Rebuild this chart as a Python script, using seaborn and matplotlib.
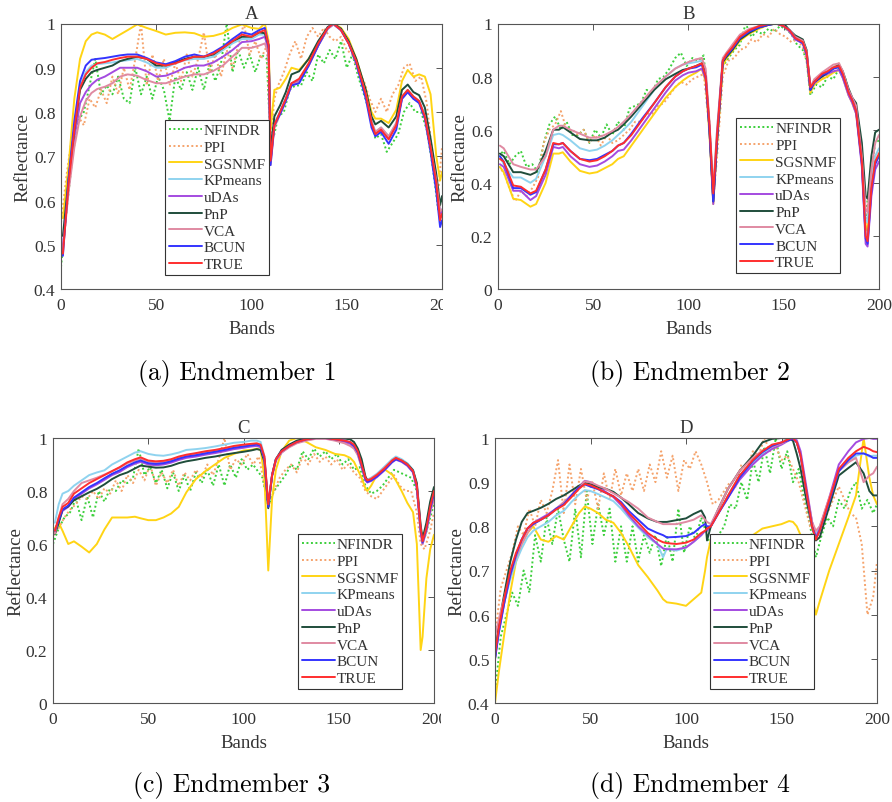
import matplotlib
matplotlib.use("Agg")
import matplotlib.pyplot as plt
import seaborn as sns
from matplotlib.transforms import Bbox, TransformedBbox
from matplotlib.ticker import FuncFormatter

sns.set_theme(style="white")
plt.rcParams['font.family'] = ['Liberation Serif', 'DejaVu Serif']

# ---------------- data ----------------
methods = ["NFINDR", "PPI", "SGSNMF", "KPmeans", "uDAs", "PnP", "VCA", "BCUN", "TRUE"]
colors = {"NFINDR": "#3ccf3c", "PPI": "#f5a36c", "SGSNMF": "#ffd414", "KPmeans": "#8fd3ef",
          "uDAs": "#a44be0", "PnP": "#1f4d3b", "VCA": "#e08aa2", "BCUN": "#3434ff", "TRUE": "#ff2e2e"}
x_ticks = [0, 50, 100, 150, 200]

# ---- Panel A ----
bands_a = [1,4,7,10,13,16,19,23,27,31,35,40,45,50,55,60,65,70,75,80,85,90,95,100,104,107,109,110,112,115,
           118,121,125,130,135,140,143,147,151,155,160,163,165,168,172,176,179,182,185,188,191,194,197,199,200]
bands_a_dot = [0,3,6,9,12,15,18,21,24,27,30,33,36,39,42,45,48,51,54,57,60,63,66,69,72,75,78,81,84,87,90,93,96,99,
               102,105,108,110,112,114,117,120,123,126,129,132,135,138,141,144,147,150,153,156,159,162,165,168,171,
               174,177,180,183,186,189,192,195,198,200]
a_nfindr = [0.45,0.58,0.7,0.78,0.8,0.86,0.92,0.84,0.86,0.84, 0.88,0.83,0.82,0.9,0.84,0.88,0.83,0.88,0.85,0.78,
            0.88,0.85,0.89,0.85,0.9,0.85,0.91,0.87,0.91,1.0, 0.89,0.94,0.9,0.93,0.89,0.93,0.92,
            0.73,0.75,0.79,0.8,0.85,0.86,0.86,0.89,0.87,0.93, 0.91,0.94,0.92,0.96,0.9,0.93,0.88,0.84,0.8,0.74,
            0.75,0.71,0.73,0.75,0.8,0.82,0.8,0.8,0.76,0.68, 0.58,0.6]
a_ppi = [0.55,0.66,0.75,0.79,0.77,0.83,0.81,0.85,0.82,0.88, 0.84,0.9,0.85,0.92,1.0,0.86,0.93,0.87,0.92,0.86,
         0.91,0.87,0.93,0.88,0.92,0.98,0.89,0.93,0.88,0.94, 0.9,0.95,1.0,0.93,0.96,0.92,0.95,
         0.73,0.83,0.86,0.89,0.93,0.96,0.92,0.97,0.99,0.97, 0.99,0.97,0.96,0.97,0.94,0.93,0.89,0.87,0.83,0.8,
         0.83,0.8,0.84,0.86,0.9,0.91,0.87,0.88,0.82,0.7, 0.62,0.72]
a_sgsnmf = [0.56,0.68,0.83,0.92,0.96,0.975,0.98,0.975,0.965,0.975, 0.985,0.998,0.99,0.983,0.975,0.979,0.98,0.978,0.97,0.972,
            0.978,0.99,0.998,0.99,0.988,1.0,0.96,0.76,0.85,0.855, 0.875,0.9,0.895,0.92,0.955,0.99,1.0,0.99,0.965,0.92,
            0.85,0.8,0.785,0.785,0.775,0.805,0.87,0.895,0.88,0.885, 0.88,0.84,0.7,0.645,0.665]
a_kpmeans = [0.49,0.65,0.77,0.86,0.89,0.905,0.908,0.91,0.912,0.915, 0.917,0.92,0.912,0.9,0.9,0.91,0.917,0.92,0.92,0.925,
             0.94,0.955,0.965,0.965,0.975,0.975,0.94,0.69,0.775,0.8, 0.83,0.865,0.87,0.905,0.95,0.988,0.998,0.985,0.955,0.915,
             0.84,0.78,0.755,0.765,0.745,0.775,0.835,0.85,0.835,0.825, 0.795,0.725,0.65,0.57,0.58]
a_udas = [0.5,0.63,0.74,0.82,0.845,0.862,0.873,0.88,0.89,0.9, 0.9,0.9,0.892,0.88,0.882,0.89,0.9,0.905,0.905,0.912,
          0.925,0.94,0.958,0.96,0.965,0.97,0.94,0.69,0.77,0.8, 0.83,0.865,0.87,0.905,0.95,0.988,0.998,0.985,0.955,0.912,
          0.84,0.775,0.752,0.76,0.74,0.77,0.83,0.845,0.83,0.822, 0.79,0.72,0.64,0.57,0.575]
a_pnp = [0.52,0.65,0.76,0.85,0.875,0.89,0.895,0.9,0.905,0.915, 0.92,0.925,0.92,0.905,0.905,0.912,0.92,0.925,0.925,0.93,
         0.945,0.96,0.97,0.97,0.98,0.978,0.95,0.71,0.79,0.815, 0.845,0.885,0.892,0.92,0.96,0.992,1.0,0.988,0.96,0.92,
         0.85,0.79,0.772,0.78,0.765,0.79,0.85,0.862,0.845,0.838, 0.81,0.74,0.66,0.59,0.61]
a_vca = [0.49,0.62,0.72,0.79,0.825,0.843,0.852,0.857,0.865,0.88, 0.885,0.882,0.872,0.865,0.865,0.872,0.88,0.885,0.885,0.893,
         0.905,0.925,0.945,0.945,0.95,0.955,0.93,0.68,0.765,0.795, 0.825,0.86,0.868,0.905,0.95,0.988,0.998,0.985,0.955,0.912,
         0.84,0.778,0.755,0.765,0.745,0.775,0.832,0.848,0.832,0.822, 0.79,0.72,0.645,0.575,0.58]
a_bcun = [0.475,0.65,0.78,0.87,0.905,0.918,0.92,0.922,0.925,0.928, 0.93,0.93,0.922,0.912,0.908,0.915,0.925,0.93,0.925,0.935,
          0.948,0.965,0.98,0.975,0.985,0.99,0.95,0.68,0.77,0.795, 0.825,0.86,0.865,0.905,0.95,0.99,1.0,0.985,0.955,0.91,
          0.83,0.765,0.745,0.755,0.728,0.76,0.83,0.845,0.83,0.82, 0.785,0.71,0.62,0.54,0.555]
a_true = [0.48,0.64,0.76,0.855,0.885,0.9,0.91,0.913,0.918,0.922, 0.925,0.925,0.92,0.91,0.905,0.91,0.918,0.925,0.925,0.932,
          0.945,0.96,0.975,0.97,0.98,0.985,0.95,0.69,0.77,0.8, 0.83,0.865,0.875,0.91,0.955,0.99,1.0,0.985,0.955,0.915,
          0.84,0.775,0.75,0.76,0.738,0.77,0.835,0.85,0.835,0.825, 0.79,0.72,0.64,0.555,0.57]

# ---- Panel B ----
bands_b = [1,3,8,12,17,20,25,29,32,34,38,43,48,52,56,60,63,66,70,76,82,88,93,97,100,104,107,109,111,113,
           115,118,120,123,127,132,137,142,146,150,153,156,160,162,164,166,170,173,176,179,181,184,186,188,191,193,194,196,198,200]
bands_b_dot = [0,3,6,9,12,15,18,21,24,27,30,33,36,39,42,45,48,51,54,57,60,63,66,69,72,75,78,81,84,87,90,93,96,99,
               102,105,108,111,113,115,118,121,124,127,130,133,136,139,142,145,148,151,154,157,160,162,164,167,170,
               173,176,179,182,185,188,191,193,195,198,200]
b_nfindr = [0.5,0.52,0.47,0.5,0.52,0.46,0.47,0.44,0.55,0.62, 0.65,0.6,0.63,0.58,0.58,0.6,0.55,0.6,0.57,0.62,
            0.58,0.63,0.6,0.68,0.69,0.7,0.75,0.74,0.79,0.8, 0.83,0.87,0.89,0.84,0.87,0.86,0.88,
            0.62,0.34,0.55,0.84,0.87,0.9,0.92,1.0,0.95,0.97, 0.96,0.98,0.97,0.99,0.98,0.96,0.92,0.9,0.86,0.73,
            0.77,0.76,0.8,0.79,0.83,0.8,0.72,0.68,0.5,0.27, 0.4,0.55,0.56]
b_ppi = [0.46,0.44,0.38,0.33,0.37,0.35,0.38,0.42,0.55,0.6, 0.62,0.67,0.6,0.6,0.58,0.6,0.55,0.58,0.54,0.58,
         0.55,0.56,0.58,0.6,0.63,0.63,0.66,0.66,0.69,0.7, 0.73,0.76,0.78,0.77,0.79,0.8,0.81,
         0.6,0.33,0.5,0.8,0.86,0.87,0.9,0.91,0.94,0.93, 0.96,0.95,0.98,0.96,0.95,0.93,0.94,0.91,0.86,0.74,
         0.79,0.79,0.81,0.84,0.85,0.78,0.73,0.69,0.5,0.22, 0.38,0.5,0.52]
b_sgsnmf = [0.46,0.44,0.34,0.335,0.31,0.32,0.4,0.51,0.51,0.515, 0.48,0.445,0.435,0.44,0.455,0.47,0.49,0.5,0.54,0.6,
            0.66,0.72,0.76,0.785,0.8,0.815,0.83,0.78,0.58,0.32, 0.55,0.84,0.87,0.895,0.935,0.962,0.98,0.995,1.0,0.99,
            0.97,0.95,0.93,0.88,0.74,0.77,0.79,0.8,0.815,0.825, 0.795,0.73,0.7,0.66,0.48,0.24,0.22,0.4,0.48,0.5]
b_kpmeans = [0.5,0.47,0.42,0.42,0.4,0.415,0.5,0.58,0.585,0.58, 0.56,0.53,0.52,0.525,0.54,0.56,0.58,0.6,0.63,0.69,
             0.75,0.8,0.83,0.845,0.85,0.855,0.86,0.82,0.62,0.38, 0.6,0.865,0.89,0.915,0.955,0.978,0.99,0.998,1.0,0.99,
             0.975,0.95,0.935,0.895,0.76,0.785,0.81,0.82,0.835,0.84, 0.81,0.745,0.715,0.68,0.5,0.26,0.25,0.42,0.5,0.53]
b_udas = [0.47,0.46,0.37,0.37,0.335,0.35,0.43,0.535,0.53,0.535, 0.5,0.47,0.46,0.465,0.48,0.5,0.52,0.525,0.56,0.62,
          0.68,0.74,0.785,0.805,0.815,0.82,0.83,0.79,0.6,0.32, 0.56,0.855,0.88,0.905,0.945,0.97,0.985,0.995,1.0,0.99,
          0.97,0.94,0.925,0.88,0.75,0.775,0.8,0.81,0.82,0.825, 0.795,0.73,0.7,0.66,0.46,0.17,0.16,0.35,0.45,0.48]
b_pnp = [0.51,0.5,0.44,0.44,0.43,0.44,0.52,0.6,0.6,0.61, 0.59,0.565,0.56,0.56,0.57,0.59,0.6,0.62,0.65,0.7,
         0.75,0.79,0.81,0.825,0.83,0.84,0.85,0.81,0.6,0.33, 0.56,0.855,0.875,0.9,0.94,0.965,0.985,0.995,1.0,1.0,
         0.975,0.955,0.94,0.9,0.75,0.78,0.8,0.815,0.83,0.845, 0.82,0.755,0.72,0.7,0.55,0.35,0.34,0.5,0.59,0.6]
b_vca = [0.54,0.53,0.47,0.46,0.45,0.45,0.5,0.6,0.615,0.615, 0.6,0.585,0.57,0.57,0.58,0.595,0.61,0.63,0.66,0.71,
         0.76,0.8,0.83,0.845,0.855,0.865,0.87,0.83,0.63,0.37, 0.6,0.87,0.89,0.92,0.958,0.98,0.99,0.998,1.0,0.99,
         0.975,0.95,0.935,0.895,0.76,0.79,0.815,0.83,0.845,0.85, 0.82,0.75,0.72,0.69,0.5,0.3,0.29,0.45,0.55,0.58]
b_bcun = [0.5,0.48,0.38,0.38,0.355,0.365,0.45,0.545,0.545,0.55, 0.52,0.49,0.485,0.49,0.505,0.52,0.54,0.55,0.585,0.645,
          0.7,0.76,0.8,0.82,0.83,0.835,0.845,0.8,0.6,0.33, 0.57,0.86,0.88,0.905,0.945,0.97,0.985,0.995,1.0,0.99,
          0.975,0.945,0.925,0.885,0.75,0.78,0.805,0.815,0.83,0.835, 0.805,0.74,0.71,0.67,0.47,0.19,0.17,0.37,0.47,0.5]
b_true = [0.49,0.48,0.39,0.385,0.36,0.37,0.45,0.55,0.545,0.55, 0.52,0.49,0.48,0.485,0.5,0.52,0.54,0.55,0.58,0.64,
          0.7,0.76,0.8,0.82,0.83,0.84,0.85,0.8,0.62,0.36, 0.58,0.86,0.885,0.91,0.95,0.975,0.99,0.998,1.0,0.99,
          0.975,0.945,0.93,0.89,0.76,0.78,0.81,0.82,0.835,0.84, 0.81,0.74,0.71,0.67,0.48,0.2,0.18,0.38,0.48,0.51]

# ---- Panel C ----
bands_c = [1,3,5,8,11,15,19,23,27,31,35,39,43,46,50,54,58,62,66,70,75,80,85,90,95,100,104,107,109,111,
           113,115,117,120,124,128,133,138,143,148,153,156,158,160,162,164,165,167,170,174,178,180,183,186,189,191,193,194,196,198,200]
bands_c_dot = [0,3,6,9,12,15,18,21,24,27,30,33,36,39,42,45,48,51,54,57,60,63,66,69,72,75,78,81,84,87,90,93,96,99,
               102,105,108,110,113,116,119,122,125,128,131,134,137,140,143,146,149,152,155,158,161,164,167,170,173,
               176,179,182,185,188,191,193,195,198,200]
c_nfindr = [0.6,0.66,0.7,0.72,0.77,0.69,0.78,0.7,0.8,0.76, 0.81,0.8,0.84,0.83,0.85,0.96,0.86,0.89,0.83,0.88,
            0.81,0.87,0.8,0.86,0.8,0.87,0.83,0.88,0.82,0.9, 0.82,0.9,0.85,0.92,0.88,0.9,0.87,
            0.85,0.74,0.8,0.83,0.86,0.9,0.88,0.95,0.92,0.96, 0.93,0.95,0.92,0.94,0.9,0.92,0.88,0.89,0.82,0.79,
            0.8,0.82,0.85,0.88,0.87,0.86,0.85,0.8, 0.65,0.62,0.7,0.75]
c_ppi = [0.63,0.66,0.7,0.73,0.75,0.78,0.77,0.8,0.77,0.81, 0.79,0.84,0.8,0.86,0.83,0.88,0.84,0.9,0.82,0.87,
         0.83,0.88,0.82,0.87,0.84,0.88,0.85,0.9,0.86,0.92, 1.0,0.88,0.92,0.9,0.94,0.9,0.93,
         0.86,0.74,0.8,0.85,0.88,0.9,0.87,0.93,0.9,0.94, 0.91,0.93,0.9,0.92,0.88,0.9,0.87,0.85,0.8,0.78,
         0.77,0.8,0.83,0.86,0.82,0.8,0.8,0.72, 0.6,0.58,0.65,0.72]
c_sgsnmf = [0.66,0.68,0.65,0.6,0.61,0.59,0.568,0.6,0.655,0.7, 0.7,0.7,0.703,0.697,0.69,0.69,0.7,0.715,0.74,0.795,
            0.845,0.875,0.9,0.925,0.94,0.953,0.955,0.96,0.955,0.85, 0.5,0.77,0.88,0.95,0.99,1.0,0.985,0.965,0.955,0.94,
            0.935,0.925,0.91,0.88,0.85,0.81,0.8,0.82,0.86,0.882, 0.862,0.84,0.8,0.755,0.72,0.6,0.2,0.25,0.47,0.58, 0.635]
c_kpmeans = [0.68,0.75,0.79,0.8,0.82,0.84,0.86,0.87,0.878,0.9, 0.915,0.93,0.945,0.95,0.94,0.935,0.933,0.938,0.945,0.955,
             0.958,0.962,0.968,0.975,0.982,0.985,0.99,0.99,0.985,0.93, 0.75,0.86,0.92,0.95,0.97,0.985,0.995,1.0,1.0,0.995,
             0.99,0.983,0.97,0.945,0.9,0.85,0.843,0.85,0.865,0.892, 0.92,0.93,0.92,0.905,0.88,0.82,0.66,0.61,0.66,0.73, 0.79]
c_udas = [0.64,0.685,0.725,0.74,0.77,0.79,0.81,0.825,0.842,0.86, 0.872,0.89,0.903,0.91,0.9,0.897,0.9,0.907,0.917,0.925,
          0.93,0.937,0.943,0.95,0.958,0.963,0.968,0.97,0.965,0.915, 0.74,0.855,0.915,0.945,0.968,0.983,0.993,0.998,0.998,0.993,
          0.985,0.978,0.965,0.94,0.89,0.84,0.832,0.838,0.852,0.878, 0.908,0.918,0.91,0.895,0.87,0.81,0.65,0.6,0.65,0.72, 0.78]
c_pnp = [0.638,0.68,0.73,0.742,0.765,0.78,0.795,0.808,0.825,0.845, 0.86,0.87,0.885,0.896,0.892,0.888,0.889,0.895,0.905,0.912,
         0.918,0.925,0.93,0.937,0.943,0.948,0.953,0.958,0.955,0.91, 0.735,0.86,0.92,0.955,0.975,0.99,0.998,1.0,1.0,1.0,
         0.998,0.995,0.985,0.96,0.92,0.855,0.84,0.845,0.86,0.885, 0.912,0.922,0.915,0.902,0.878,0.83,0.67,0.62,0.68,0.76, 0.815]
c_vca = [0.64,0.7,0.75,0.77,0.8,0.83,0.84,0.85,0.862,0.875, 0.888,0.905,0.915,0.922,0.912,0.908,0.91,0.917,0.925,0.932,
         0.94,0.945,0.95,0.957,0.965,0.97,0.973,0.975,0.97,0.92, 0.75,0.86,0.915,0.945,0.965,0.98,0.99,0.997,0.997,0.99,
         0.98,0.97,0.96,0.935,0.89,0.845,0.84,0.848,0.862,0.888, 0.915,0.925,0.915,0.9,0.872,0.81,0.64,0.6,0.65,0.72, 0.77]
c_bcun = [0.65,0.69,0.73,0.745,0.775,0.795,0.815,0.83,0.848,0.865, 0.878,0.895,0.908,0.915,0.905,0.902,0.905,0.912,0.922,0.93,
          0.935,0.942,0.948,0.955,0.963,0.968,0.972,0.975,0.97,0.92, 0.74,0.86,0.92,0.95,0.97,0.985,0.995,1.0,1.0,0.995,
          0.99,0.983,0.97,0.945,0.895,0.845,0.835,0.84,0.855,0.88, 0.91,0.92,0.912,0.898,0.872,0.815,0.65,0.605,0.655,0.73, 0.79]
c_true = [0.65,0.7,0.74,0.755,0.79,0.81,0.83,0.845,0.86,0.875, 0.89,0.908,0.92,0.927,0.915,0.912,0.914,0.92,0.93,0.937,
          0.943,0.95,0.955,0.962,0.97,0.975,0.978,0.98,0.975,0.93, 0.75,0.86,0.92,0.95,0.97,0.985,0.995,1.0,1.0,0.995,
          0.99,0.985,0.975,0.95,0.9,0.85,0.84,0.845,0.86,0.885, 0.915,0.925,0.915,0.9,0.875,0.82,0.66,0.61,0.66,0.74, 0.8]

# ---- Panel D ----
bands_d = [0,2,5,8,11,14,17,20,24,28,32,36,40,44,47,50,54,58,62,66,70,75,80,85,88,90,95,100,104,108,
           110,111,113,117,122,128,135,140,145,150,154,156,158,160,163,166,168,170,175,180,185,189,193,196,198,200]
bands_d_dot = [0,3,6,9,12,15,18,21,24,27,30,33,36,39,42,45,48,51,54,57,60,63,66,69,72,75,78,81,84,87,90,93,96,99,
               102,105,108,111,114,117,120,123,126,129,132,135,138,141,144,147,150,153,156,159,162,165,168,171,174,
               177,180,183,186,189,192,195,198,200]
d_nfindr = [0.42,0.55,0.6,0.65,0.62,0.7,0.65,0.78,0.72,0.82, 0.76,0.84,0.77,0.72,0.84,0.73,0.88,0.76,0.85,0.78,
            0.84,0.72,0.8,0.72,0.8,0.72,0.78,0.74,0.78,0.71, 0.78,0.72,0.84,0.74,0.8,0.77,0.82,
            0.78,0.74,0.78,0.8,0.85,0.84,0.9,0.86,0.95,0.9, 0.98,0.92,1.0,0.93,0.97,0.9,0.93,0.86,0.8,0.73,
            0.78,0.82,0.8,0.86,0.84,0.88,0.9,0.84,0.86,0.83, 0.85]
d_ppi = [0.55,0.66,0.7,0.74,0.8,0.78,0.84,0.8,0.86,0.83, 0.88,0.95,0.83,0.94,0.85,0.93,0.86,0.9,0.84,0.92,
         0.86,0.93,0.87,0.92,0.88,0.93,0.88,0.94,0.9,0.97, 0.91,0.96,0.88,0.95,0.93,0.97,0.94,
         0.9,0.85,0.86,0.88,0.9,0.89,0.94,0.93,0.97,0.96, 1.0,0.97,0.98,0.95,0.96,0.93,0.9,0.85,0.8,0.79,
         0.79,0.83,0.86,0.89,0.86,0.83,0.82,0.76,0.6,0.64, 0.72]
d_sgsnmf = [0.4,0.47,0.56,0.65,0.72,0.76,0.785,0.8,0.77,0.765, 0.778,0.77,0.8,0.83,0.845,0.84,0.83,0.815,0.808,0.785,
            0.755,0.712,0.685,0.655,0.635,0.628,0.625,0.62,0.635,0.65, 0.7,0.73,0.77,0.77,0.77,0.775,0.78,0.795,0.8,0.805,
            0.812,0.81,0.8,0.78,0.72,0.64,0.6,0.63,0.7,0.76, 0.82,0.87,1.0,0.91,0.87,0.85]
d_kpmeans = [0.52,0.57,0.63,0.68,0.72,0.75,0.775,0.79,0.8,0.81, 0.825,0.835,0.855,0.872,0.882,0.88,0.873,0.865,0.857,0.84,
             0.82,0.797,0.775,0.76,0.73,0.75,0.745,0.752,0.765,0.78, 0.79,0.79,0.8,0.83,0.868,0.91,0.945,0.965,0.98,0.988,
             0.995,0.998,0.99,0.96,0.88,0.81,0.78,0.8,0.86,0.925, 0.945,0.96,0.965,0.958,0.96,0.96]
d_udas = [0.5,0.56,0.63,0.69,0.735,0.77,0.795,0.808,0.818,0.828, 0.84,0.852,0.87,0.89,0.903,0.9,0.89,0.878,0.866,0.848,
          0.825,0.8,0.78,0.76,0.75,0.748,0.748,0.752,0.765,0.78, 0.79,0.79,0.8,0.83,0.865,0.905,0.94,0.96,0.975,0.985,
          0.995,1.0,0.995,0.97,0.89,0.81,0.775,0.795,0.865,0.94, 0.97,0.99,0.998,1.0,0.998,0.998]
d_pnp = [0.5,0.58,0.65,0.72,0.77,0.81,0.83,0.835,0.842,0.851, 0.862,0.87,0.881,0.892,0.898,0.895,0.889,0.885,0.878,0.865,
         0.85,0.83,0.818,0.81,0.81,0.81,0.814,0.818,0.828,0.836, 0.82,0.768,0.8,0.84,0.885,0.925,0.96,0.99,0.998,1.0,
         0.998,0.994,0.964,0.93,0.86,0.8,0.768,0.775,0.845,0.915, 0.932,0.945,0.92,0.88,0.87,0.87]
d_vca = [0.55,0.59,0.64,0.69,0.73,0.76,0.785,0.805,0.815,0.825, 0.84,0.855,0.87,0.888,0.902,0.9,0.892,0.885,0.875,0.865,
         0.855,0.84,0.82,0.81,0.805,0.805,0.805,0.81,0.815,0.825, 0.815,0.81,0.805,0.84,0.885,0.925,0.955,0.972,0.98,0.988,
         0.995,1.0,0.99,0.96,0.88,0.81,0.79,0.8,0.865,0.925, 0.945,0.955,0.9,0.915,0.92,0.935]
d_bcun = [0.5,0.56,0.63,0.69,0.735,0.77,0.795,0.805,0.815,0.825, 0.84,0.85,0.87,0.888,0.895,0.89,0.884,0.876,0.868,0.855,
          0.835,0.815,0.795,0.785,0.78,0.775,0.776,0.778,0.785,0.8, 0.805,0.8,0.8,0.83,0.865,0.91,0.948,0.968,0.982,0.99,
          0.995,0.998,0.99,0.96,0.88,0.8,0.772,0.79,0.855,0.925, 0.95,0.965,0.965,0.96,0.955,0.955]
d_true = [0.51,0.57,0.64,0.7,0.74,0.77,0.795,0.808,0.815,0.825, 0.838,0.848,0.866,0.885,0.896,0.893,0.885,0.876,0.868,0.852,
          0.83,0.808,0.785,0.77,0.764,0.762,0.76,0.763,0.77,0.785, 0.79,0.795,0.8,0.83,0.87,0.915,0.95,0.97,0.985,0.99,
          0.998,1.0,0.99,0.96,0.88,0.8,0.77,0.79,0.86,0.93, 0.955,0.97,0.98,0.975,0.97,0.968]

# ---------------- figure ----------------
W, H = 892, 803
fig = plt.figure(figsize=(W / 100, H / 100), dpi=100)

def rect(l, t, r, b):
    return [l / W, 1 - b / H, (r - l) / W, (b - t) / H]

panels = [
    dict(title="A", box=(61, 24.5, 442, 290), ylim=(0.4, 1.0), yt=[0.4, 0.5, 0.6, 0.7, 0.8, 0.9, 1.0],
         grid=bands_a, dot=bands_a_dot,
         vals=dict(NFINDR=a_nfindr, PPI=a_ppi, SGSNMF=a_sgsnmf, KPmeans=a_kpmeans, uDAs=a_udas,
                   PnP=a_pnp, VCA=a_vca, BCUN=a_bcun, TRUE=a_true),
         leg=(0.273, 0.053), ylx=-0.077, clip=443, cap="(a) Endmember 1", capxy=(237, 374)),
    dict(title="B", box=(498, 24.5, 879, 290), ylim=(0.0, 1.0), yt=[0, 0.2, 0.4, 0.6, 0.8, 1.0],
         grid=bands_b, dot=bands_b_dot,
         vals=dict(NFINDR=b_nfindr, PPI=b_ppi, SGSNMF=b_sgsnmf, KPmeans=b_kpmeans, uDAs=b_udas,
                   PnP=b_pnp, VCA=b_vca, BCUN=b_bcun, TRUE=b_true),
         leg=(0.625, 0.06), ylx=-0.078, clip=None, cap="(b) Endmember 2", capxy=(690, 374)),
    dict(title="C", box=(53, 439, 434, 704), ylim=(0.0, 1.0), yt=[0, 0.2, 0.4, 0.6, 0.8, 1.0],
         grid=bands_c, dot=bands_c_dot,
         vals=dict(NFINDR=c_nfindr, PPI=c_ppi, SGSNMF=c_sgsnmf, KPmeans=c_kpmeans, uDAs=c_udas,
                   PnP=c_pnp, VCA=c_vca, BCUN=c_bcun, TRUE=c_true),
         leg=(0.643, 0.053), ylx=-0.076, clip=441, cap="(c) Endmember 3", capxy=(232, 786)),
    dict(title="D", box=(495, 439, 877, 704), ylim=(0.4, 1.0), yt=[0.4, 0.5, 0.6, 0.7, 0.8, 0.9, 1.0],
         grid=bands_d, dot=bands_d_dot,
         vals=dict(NFINDR=d_nfindr, PPI=d_ppi, SGSNMF=d_sgsnmf, KPmeans=d_kpmeans, uDAs=d_udas,
                   PnP=d_pnp, VCA=d_vca, BCUN=d_bcun, TRUE=d_true),
         leg=(0.563, 0.053), ylx=-0.077, clip=None, cap="(d) Endmember 4", capxy=(690, 786)),
]

spine_c = "#555555"
text_c = "#333333"
fmt = FuncFormatter(lambda v, p: f"{v:g}")

for p in panels:
    ax = fig.add_axes(rect(*p["box"]))
    ax.set_facecolor("white")
    for m in methods:
        xs = p["dot"] if m in ("NFINDR", "PPI") else p["grid"]
        ys = p["vals"][m]
        n = min(len(xs), len(ys))
        if len(xs) != len(ys):
            print("length mismatch", p["title"], m, len(xs), len(ys))
        dotted = m in ("NFINDR", "PPI")
        sns.lineplot(x=xs[:n], y=ys[:n], ax=ax, color=colors[m], label=m, sort=False, estimator=None,
                     linewidth=1.4, linestyle=(0, (1, 1.3)) if dotted else "-")
    ax.set_xlim(0, 200)
    ax.set_ylim(*p["ylim"])
    ax.set_xticks(x_ticks)
    ax.set_yticks(p["yt"])
    ax.xaxis.set_major_formatter(fmt)
    ax.yaxis.set_major_formatter(fmt)
    ax.tick_params(direction="in", length=4, width=0.7, top=True, right=True, colors=spine_c,
                   labelcolor=text_c, labelsize=12.5)
    ax.tick_params(axis="x", pad=6)
    ax.tick_params(axis="y", pad=4)
    for s in ax.spines.values():
        s.set_color(spine_c)
        s.set_linewidth(0.8)
    ax.set_title(p["title"], fontsize=13.5, color=text_c, pad=4)
    ax.set_xlabel("Bands", fontsize=13.5, color=text_c)
    ax.set_ylabel("Reflectance", fontsize=13.5, color=text_c)
    ax.xaxis.set_label_coords(0.5, -0.118)
    ax.yaxis.set_label_coords(p["ylx"], 0.5)
    h, l = ax.get_legend_handles_labels()
    leg = ax.legend(h, l, loc="lower left", bbox_to_anchor=p["leg"], borderaxespad=0, frameon=True,
                    fancybox=False, framealpha=1, edgecolor="#333333", fontsize=11,
                    labelspacing=0.2, handlelength=2.15, handletextpad=0.15, borderpad=0.25)
    leg.get_frame().set_linewidth(0.8)
    for t in leg.get_texts():
        t.set_color(text_c)
    if p["clip"] is not None:
        cb = TransformedBbox(Bbox([[0, 0], [p["clip"] / W, 1]]), fig.transFigure)
        for lbl in ax.get_xticklabels():
            lbl.set_clip_box(cb)
            lbl.set_clip_on(True)
    cx, cy = p["capxy"]
    fig.text(cx / W, 1 - cy / H, p["cap"], ha="center", va="center", fontsize=18.5,
             family=["cmr10", "DejaVu Serif"], color="black")

fig.savefig("out.png", dpi=100, facecolor="white")
